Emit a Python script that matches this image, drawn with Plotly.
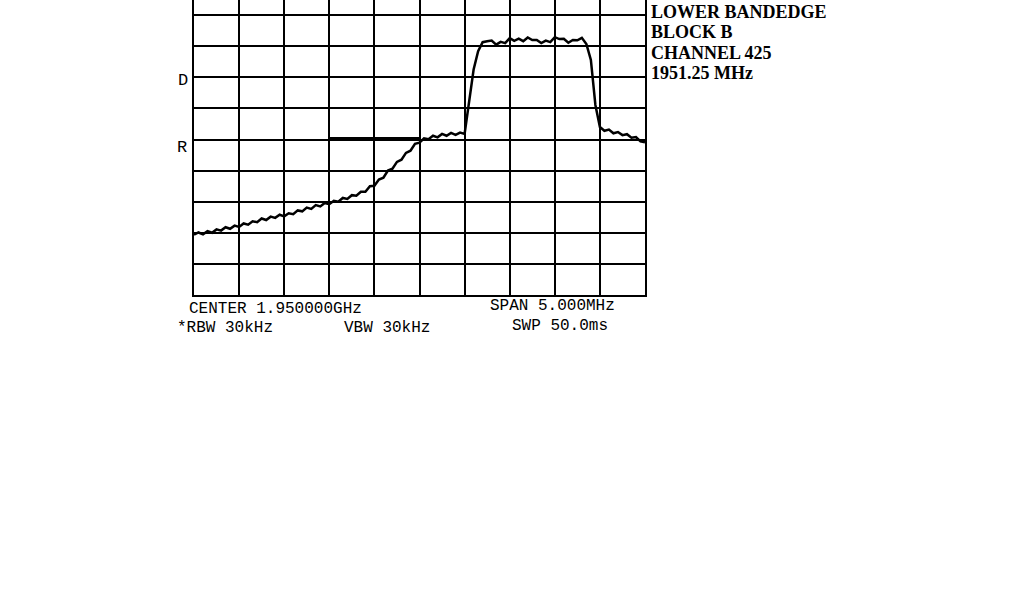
import numpy as np
import plotly.graph_objects as go

# Spectrum analyser sweep, lower bandedge of block B (channel 425)
CENTER_MHZ = 1950.0
SPAN_MHZ = 5.0

level_db = [
    -80.6, -79.9, -80.5, -79.5, -80.0, -78.9, -79.3, -78.2, -78.7, -77.7,
    -78.1, -77.0, -77.4, -76.3, -76.6, -75.4, -75.9, -74.8, -75.2, -74.2,
    -74.7, -73.7, -74.0, -72.8, -73.1, -71.9, -72.3, -71.1, -71.5, -70.4,
    -70.8, -69.7, -70.0, -68.8, -69.1, -67.9, -68.1, -66.8, -66.8, -65.0,
    -64.9, -62.9, -62.3, -60.0, -59.4, -57.2, -56.5, -54.3, -53.6, -51.4,
    -51.0, -49.6, -49.9, -48.8, -49.3, -48.2, -48.8, -47.9, -48.5, -47.8,
    -48.2, -37.3, -27.5, -21.6, -18.7, -18.4, -18.2, -19.5, -18.6, -19.0,
    -17.4, -18.3, -17.6, -18.4, -17.2, -18.0, -18.0, -19.0, -18.2, -18.7,
    -17.1, -17.7, -17.6, -18.9, -18.0, -18.1, -17.3, -19.3, -24.4, -38.9,
    -46.0, -47.2, -46.8, -48.0, -47.6, -48.6, -48.3, -49.4, -49.2, -50.6,
    -50.9,
]
freq_mhz = np.linspace(CENTER_MHZ - SPAN_MHZ / 2, CENTER_MHZ + SPAN_MHZ / 2, len(level_db))

# display line
dl_freq = [1949.0, 1950.0]
dl_level = [-49.7, -49.7]

side_notes = ["LOWER BANDEDGE", "BLOCK B", "CHANNEL 425", "1951.25 MHz"]

MONO = "Liberation Mono, DejaVu Sans Mono, monospace"
SERIF = "Liberation Serif, Times New Roman, serif"

fig = go.Figure()
fig.add_trace(go.Scatter(
    x=dl_freq, y=dl_level, mode="lines",
    line=dict(color="black", width=3), hoverinfo="skip",
))
fig.add_trace(go.Scatter(
    x=freq_mhz, y=level_db, mode="lines",
    line=dict(color="black", width=2.5), hoverinfo="skip",
))

px_w, px_h = 451.0, 295.0  # plot area in pixels


def px(x, y):
    return (x - 194) / px_w, (295 - y) / px_h


annotations = []
for txt, x, y in [("D", 183, 80), ("R", 182, 147)]:
    ax, ay = px(x, y)
    annotations.append(dict(text=txt, x=ax, y=ay, xref="paper", yref="paper",
                            xanchor="center", yanchor="middle", showarrow=False,
                            font=dict(family=MONO, size=17, color="black")))

for txt, x, y in [
    ("CENTER 1.950000GHz", 187, 309),
    ("*RBW 30kHz", 175, 328),
    ("VBW 30kHz", 342, 328),
    ("SPAN 5.000MHz", 488, 306),
    ("SWP 50.0ms", 510, 326),
]:
    ax, ay = px(x, y)
    annotations.append(dict(text=txt, x=ax, y=ay, xref="paper", yref="paper",
                            xanchor="left", yanchor="middle", showarrow=False,
                            font=dict(family=MONO, size=16, color="black")))

for i, txt in enumerate(side_notes):
    ax, ay = px(649, 12 + 20.3 * i)
    annotations.append(dict(text="<b>%s</b>" % txt, x=ax, y=ay, xref="paper", yref="paper",
                            xanchor="left", yanchor="middle", showarrow=False,
                            font=dict(family=SERIF, size=18, color="black")))

fig.update_layout(
    width=1024, height=600,
    margin=dict(l=194, r=379, t=0, b=305),
    paper_bgcolor="white", plot_bgcolor="white",
    showlegend=False,
    annotations=annotations,
    xaxis=dict(
        range=[CENTER_MHZ - SPAN_MHZ / 2, CENTER_MHZ + SPAN_MHZ / 2],
        dtick=0.5, tick0=1947.5, showgrid=True, gridcolor="black", gridwidth=2,
        showline=True, linecolor="black", linewidth=2, mirror=False,
        zeroline=False, showticklabels=False, ticks="",
    ),
    yaxis=dict(
        range=[-100, -100 + 295 / 3.11],
        dtick=10, tick0=-100, showgrid=True, gridcolor="black", gridwidth=2,
        showline=True, linecolor="black", linewidth=2, mirror=True,
        zeroline=False, showticklabels=False, ticks="",
    ),
)

fig.write_html("out.html", config={"displayModeBar": False},
               post_script="document.body.style.margin='0';")
